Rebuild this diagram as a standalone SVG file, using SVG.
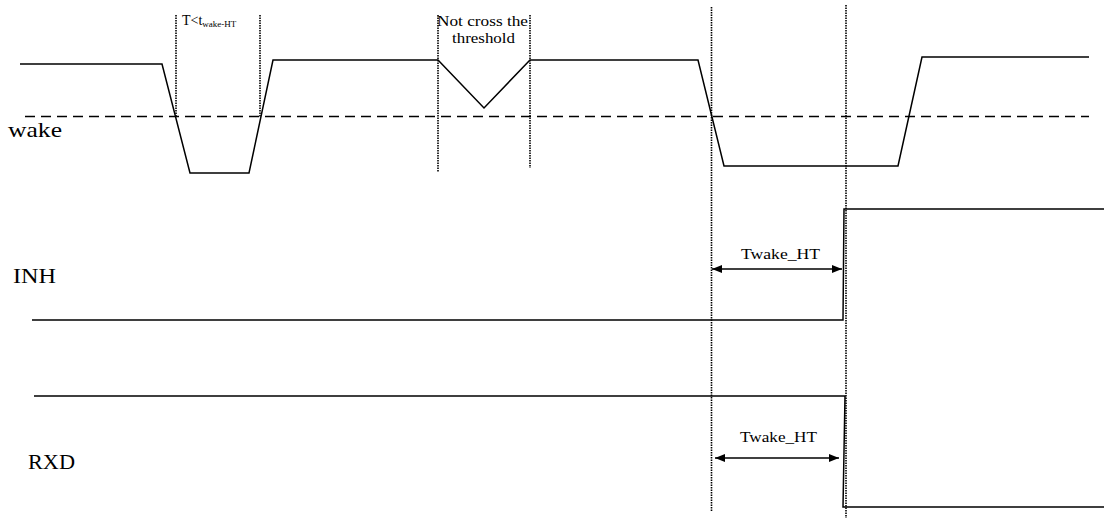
<svg xmlns="http://www.w3.org/2000/svg" width="1104" height="518" viewBox="0 0 1104 518">
<style>
.sig{fill:none;stroke:#000;stroke-width:1.5;stroke-linejoin:miter}
.dot{fill:none;stroke:#000;stroke-width:1.6;stroke-dasharray:1.5 1}
.dash{fill:none;stroke:#000;stroke-width:1.3;stroke-dasharray:10 6}
.arr{fill:none;stroke:#000;stroke-width:1.5;marker-start:url(#ah);marker-end:url(#ah)}
text{fill:#000}
</style>
<defs>
<marker id="ah" viewBox="0 0 10 8" refX="10" refY="4" markerWidth="10" markerHeight="8" markerUnits="userSpaceOnUse" orient="auto-start-reverse">
<path d="M0,0 L10,4 L0,8 Z" fill="#000"/>
</marker>
</defs>
<rect width="1104" height="518" fill="#fff"/>
<g id="guides">
<line class="dash" x1="25" y1="116.5" x2="1089" y2="116.5"/>
<line class="dot" x1="176" y1="15" x2="176" y2="116"/>
<line class="dot" x1="260" y1="15" x2="260" y2="117"/>
<line class="dot" x1="438" y1="15" x2="438" y2="172"/>
<line class="dot" x1="530" y1="15" x2="530" y2="168"/>
<line class="dot" x1="711.5" y1="7" x2="711.5" y2="512"/>
<line class="dot" x1="846" y1="5" x2="846" y2="518"/>
</g>
<g font-family="'Liberation Serif', 'DejaVu Serif', serif">
<g id="wake">
<polyline class="sig" points="20,64 162,64 190,173 249,173 273,60 438,60 484,108 530,60 698,60 724,166 898,166 922,57 1089,57"/>
<text x="8" y="137" font-size="22" textLength="54" lengthAdjust="spacingAndGlyphs">wake</text>
</g>
<g id="inh">
<polyline class="sig" points="32,320 843,320 844,209 1104,209"/>
<text x="13" y="283" font-size="21" textLength="43" lengthAdjust="spacingAndGlyphs">INH</text>
</g>
<g id="rxd">
<polyline class="sig" points="34,396 845,396 843,507 1104,507"/>
<text x="28" y="469" font-size="21" textLength="47" lengthAdjust="spacingAndGlyphs">RXD</text>
</g>
<g id="connectors">
<line class="arr" x1="712" y1="269" x2="842" y2="269"/>
<line class="arr" x1="715" y1="458" x2="839" y2="458"/>
</g>
<g id="labels">
<text x="182" y="25" font-size="14">T&lt;t<tspan font-size="9" dy="2">wake-HT</tspan></text>
<text x="437" y="26" font-size="15" textLength="91" lengthAdjust="spacingAndGlyphs">Not cross the</text>
<text x="452" y="43" font-size="15" textLength="63" lengthAdjust="spacingAndGlyphs">threshold</text>
<text x="741" y="259" font-size="15" textLength="79" lengthAdjust="spacingAndGlyphs">Twake_HT</text>
<text x="740" y="442" font-size="15" textLength="77" lengthAdjust="spacingAndGlyphs">Twake_HT</text>
</g>
</g>
</svg>
